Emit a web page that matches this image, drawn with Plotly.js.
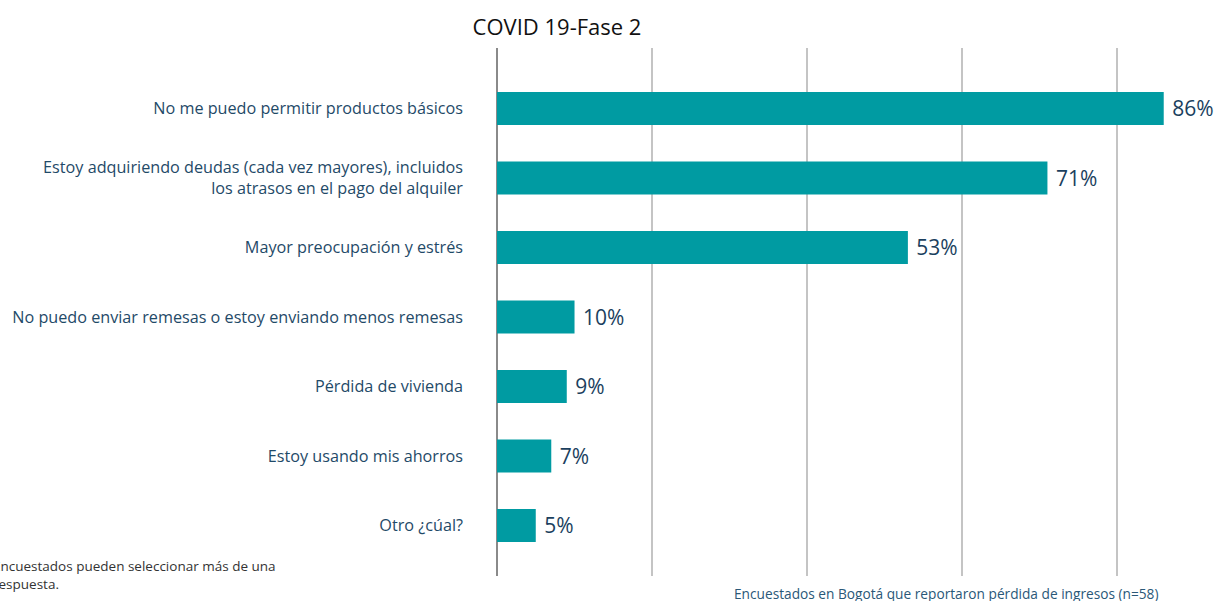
<!DOCTYPE html>
<html>
<head>
<meta charset="utf-8">
<script src="https://cdn.plot.ly/plotly-3.0.1.min.js"></script>
<style>html,body{margin:0;padding:0;background:#fff;overflow:hidden}#chart{width:1219px;height:601px}</style>
</head>
<body>
<div id="chart"></div>
<script>
const categories = [
  "No me puedo permitir productos básicos",
  "Estoy adquiriendo deudas (cada vez mayores), incluidos<br>los atrasos en el pago del alquiler",
  "Mayor preocupación y estrés",
  "No puedo enviar remesas o estoy enviando menos remesas",
  "Pérdida de vivienda",
  "Estoy usando mis ahorros",
  "Otro ¿cúal?"
];
const values = [86, 71, 53, 10, 9, 7, 5];
const titleText = "COVID 19-Fase 2";
const footnote = "Encuestados pueden seleccionar más de una<br>respuesta.";
const sourceNote = "Encuestados en Bogotá que reportaron pérdida de ingresos (n=58)";
const gridTicks = [0, 20, 40, 60, 80];

const font = "'Open Sans', 'Noto Sans', sans-serif";
const plotW = 1219 - 497 - 1, plotH = 601 - 48 - 25;

const trace = {
  type: 'bar',
  orientation: 'h',
  x: values,
  y: categories,
  width: 0.475,
  marker: {color: '#009ba2'},
  text: values.map(v => v + '%'),
  texttemplate: '\u00a0%{text}',
  textposition: 'outside',
  cliponaxis: false,
  textfont: {family: font, size: 21, color: '#1b3f5e'},
  hoverinfo: 'none'
};

const layout = {
  width: 1219, height: 601,
  margin: {l: 497, r: 1, t: 48, b: 25},
  paper_bgcolor: '#fff', plot_bgcolor: '#fff',
  showlegend: false,
  title: {text: titleText, x: 557 / 1219, xanchor: 'center', y: 1 - 27 / 601, yanchor: 'middle',
          font: {family: font, size: 22, color: '#111'}},
  xaxis: {range: [0, 93], tickvals: gridTicks, showticklabels: false, showgrid: true,
          gridcolor: '#c4c4c4', gridwidth: 2, zeroline: true, zerolinecolor: '#8a8a8a',
          zerolinewidth: 2, fixedrange: true},
  yaxis: {type: 'category', range: [6.727, -0.87], showgrid: false, zeroline: false,
          ticks: '', ticklabelstandoff: 33, automargin: false,
          tickfont: {family: font, size: 16.2, color: '#1f4a68'}, fixedrange: true},
  annotations: [
    {text: footnote, xref: 'paper', yref: 'paper', x: -506 / plotW, y: -(575 - 576) / plotH,
     xanchor: 'left', yanchor: 'middle', align: 'left', showarrow: false,
     font: {family: font, size: 13.5, color: '#333'}},
    {text: sourceNote, xref: 'paper', yref: 'paper', x: (945.5 - 497) / plotW, y: -(593 - 576) / plotH,
     xanchor: 'center', yanchor: 'middle', showarrow: false,
     font: {family: font, size: 13.7, color: '#2a5878'}}
  ]
};

Plotly.newPlot('chart', [trace], layout, {displayModeBar: false, staticPlot: true});
</script>
</body>
</html>
